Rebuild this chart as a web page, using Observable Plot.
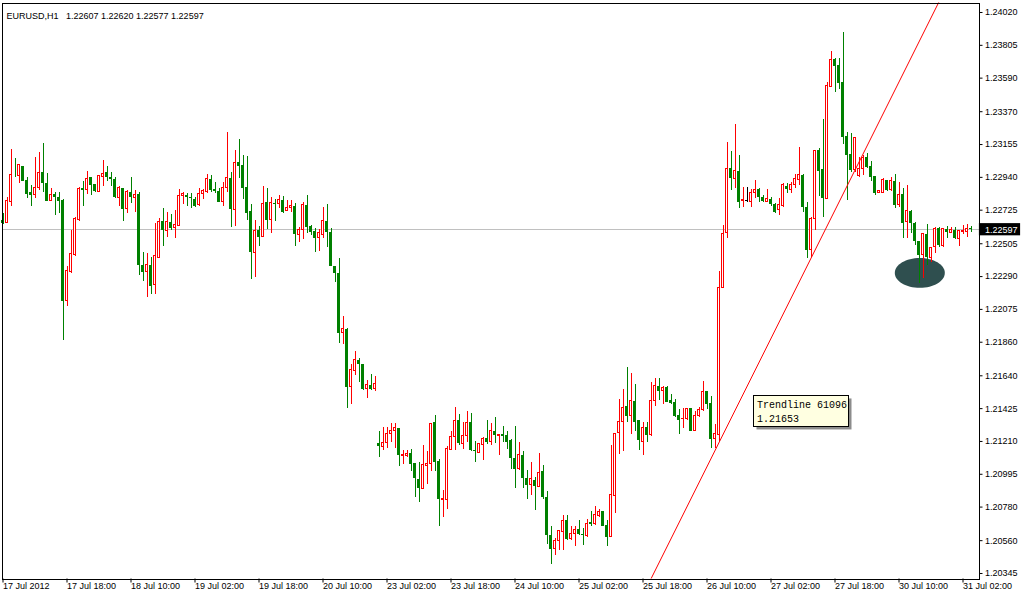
<!DOCTYPE html>
<html><head><meta charset="utf-8">
<script src="https://cdn.jsdelivr.net/npm/d3@7"></script>
<script src="https://cdn.jsdelivr.net/npm/@observablehq/plot@0.6"></script>
<style>
html,body{margin:0;padding:0;background:#fff;}
#chart svg{display:block;}
</style></head><body><div id="chart"></div>
<script>
const symbolName = "EURUSD,H1";
const lastQuote = [1.22607, 1.22620, 1.22577, 1.22597]; // O H L C of the last bar

const open = [
1.22659,1.22643,1.22779,1.22955,1.22949,1.23012,1.22920,1.22838,1.22822,1.22872,
1.22971,1.22903,1.22783,1.22829,1.22807,1.22790,1.22128,1.22320,1.22429,1.22659,
1.22870,1.22855,1.22936,1.22894,1.22844,1.22942,1.22969,1.22942,1.22927,1.22805,
1.22870,1.22731,1.22844,1.22805,1.22829,1.22364,1.22320,1.22364,1.22233,1.22412,
1.22648,1.22589,1.22645,1.22608,1.22621,1.22820,1.22818,1.22811,1.22796,1.22757,
1.22830,1.22843,1.22926,1.22861,1.22850,1.22778,1.22872,1.22935,1.22728,1.23036,
1.23018,1.22874,1.22717,1.22444,1.22592,1.22549,1.22774,1.22658,1.22771,1.22763,
1.22789,1.22719,1.22739,1.22750,1.22564,1.22597,1.22756,1.22619,1.22586,1.22544,
1.22564,1.22651,1.22581,1.22357,1.22313,1.21920,1.21944,1.21566,1.21671,1.21741,
1.21715,1.21555,1.21577,1.21551,1.21195,1.21174,1.21202,1.21261,1.21281,1.21292,
1.21115,1.21115,1.21130,1.21064,1.20962,1.20901,1.21049,1.21064,1.21337,1.21080,
1.20829,1.20829,1.21156,1.21239,1.21348,1.21195,1.21246,1.21333,1.21152,1.21137,
1.21189,1.21228,1.21206,1.21276,1.21246,1.21254,1.21250,1.21213,1.21097,1.21027,
1.21119,1.20966,1.20923,1.20955,1.20912,1.21014,1.20846,1.20595,1.20504,1.20556,
1.20617,1.20691,1.20571,1.20602,1.20632,1.20602,1.20591,1.20676,1.20667,1.20722,
1.20748,1.20660,1.20584,1.20853,1.21265,1.21337,1.21440,1.21376,1.21473,1.21348,
1.21206,1.21300,1.21250,1.21475,1.21571,1.21540,1.21562,1.21475,1.21468,1.21381,
1.21355,1.21355,1.21425,1.21278,1.21374,1.21414,1.21538,1.21457,1.21224,1.21255,
1.22217,1.22577,1.22996,1.22931,1.22981,1.22782,1.22789,1.22778,1.22839,1.22859,
1.22811,1.22778,1.22796,1.22761,1.22728,1.22752,1.22881,1.22859,1.22887,1.22920,
1.22953,1.22745,1.22462,1.22669,1.23114,1.22992,1.22800,1.23531,1.23710,1.23673,
1.23560,1.23210,1.23090,1.22985,1.22948,1.22996,1.23068,1.23012,1.22946,1.22839,
1.22839,1.22920,1.22859,1.22916,1.22756,1.22826,1.22647,1.22719,1.22636,1.22520,
1.22429,1.22566,1.22413,1.22483,1.22603,1.22490,1.22599,1.22577,1.22593,1.22538,
1.22582,1.22582,1.22607];
const high = [
1.22702,1.22811,1.23124,1.23062,1.23023,1.23012,1.22942,1.22888,1.23073,1.23102,
1.23161,1.22964,1.22866,1.22844,1.22844,1.22794,1.22357,1.22593,1.22676,1.22872,
1.22910,1.22979,1.22942,1.22894,1.22949,1.23051,1.23008,1.22975,1.22942,1.22881,
1.22870,1.22855,1.22936,1.22855,1.22844,1.22445,1.22440,1.22418,1.22641,1.22669,
1.22735,1.22713,1.22698,1.22724,1.22859,1.22844,1.22833,1.22833,1.22811,1.22866,
1.22861,1.22959,1.22953,1.22909,1.22865,1.22905,1.23236,1.22974,1.23116,1.23188,
1.23084,1.23077,1.22763,1.22658,1.22619,1.22881,1.22870,1.22811,1.22795,1.22822,
1.22817,1.22789,1.22789,1.22767,1.22614,1.22774,1.22822,1.22625,1.22603,1.22597,
1.22745,1.22763,1.22603,1.22357,1.22411,1.22029,1.21948,1.21713,1.21800,1.21756,
1.21715,1.21610,1.21649,1.21636,1.21272,1.21300,1.21300,1.21326,1.21326,1.21298,
1.21152,1.21152,1.21158,1.21064,1.21071,1.21184,1.21145,1.21326,1.21381,1.21093,
1.20890,1.21174,1.21276,1.21431,1.21388,1.21337,1.21407,1.21392,1.21211,1.21195,
1.21233,1.21344,1.21326,1.21366,1.21257,1.21309,1.21272,1.21222,1.21309,1.21206,
1.21145,1.21021,1.21075,1.20977,1.21130,1.21054,1.20879,1.20650,1.20573,1.20628,
1.20724,1.20724,1.20654,1.20654,1.20689,1.20639,1.20698,1.20748,1.20787,1.20765,
1.20754,1.20693,1.21184,1.21265,1.21483,1.21549,1.21697,1.21658,1.21584,1.21348,
1.21337,1.21337,1.21593,1.21621,1.21621,1.21571,1.21571,1.21518,1.21483,1.21418,
1.21429,1.21429,1.21429,1.21403,1.21435,1.21604,1.21538,1.21505,1.21322,1.22324,
1.22625,1.23167,1.23110,1.23287,1.23084,1.22876,1.22872,1.22861,1.22920,1.22865,
1.22822,1.22861,1.22811,1.22767,1.22804,1.22898,1.22898,1.22909,1.22959,1.23138,
1.22959,1.22774,1.22680,1.23116,1.23127,1.23319,1.23560,1.23765,1.23717,1.23717,
1.23891,1.23232,1.23226,1.23204,1.23073,1.23084,1.23095,1.23044,1.22946,1.22852,
1.22931,1.22920,1.22942,1.22957,1.22905,1.22870,1.22887,1.22723,1.22643,1.22520,
1.22571,1.22632,1.22483,1.22614,1.22614,1.22608,1.22619,1.22614,1.22614,1.22588,
1.22625,1.22630,1.22620];
const low = [
1.22632,1.22641,1.22746,1.22942,1.22899,1.22910,1.22800,1.22746,1.22800,1.22855,
1.22844,1.22779,1.22779,1.22691,1.22702,1.21873,1.22091,1.22309,1.22423,1.22648,
1.22746,1.22829,1.22822,1.22844,1.22844,1.22877,1.22910,1.22881,1.22800,1.22746,
1.22654,1.22702,1.22768,1.22713,1.22298,1.22255,1.22156,1.22174,1.22172,1.22407,
1.22484,1.22549,1.22593,1.22538,1.22615,1.22763,1.22746,1.22735,1.22741,1.22750,
1.22795,1.22833,1.22843,1.22833,1.22774,1.22752,1.22843,1.22614,1.22621,1.22935,
1.22795,1.22658,1.22272,1.22287,1.22490,1.22544,1.22599,1.22575,1.22654,1.22739,
1.22706,1.22717,1.22712,1.22490,1.22516,1.22533,1.22571,1.22560,1.22451,1.22455,
1.22538,1.22479,1.22355,1.22254,1.21854,1.21844,1.21429,1.21451,1.21643,1.21599,
1.21544,1.21494,1.21544,1.21540,1.21102,1.21152,1.21167,1.21202,1.21167,1.21043,
1.21058,1.21108,1.21010,1.20840,1.20807,1.20896,1.20927,1.21016,1.21014,1.20656,
1.20715,1.20763,1.21152,1.21152,1.21184,1.21158,1.21206,1.21145,1.21069,1.21130,
1.21086,1.21189,1.21184,1.21195,1.21119,1.21206,1.21158,1.21027,1.20905,1.21021,
1.20905,1.20829,1.20853,1.20759,1.20910,1.20831,1.20536,1.20405,1.20460,1.20497,
1.20497,1.20562,1.20558,1.20519,1.20595,1.20529,1.20580,1.20650,1.20660,1.20711,
1.20650,1.20519,1.20580,1.20741,1.21125,1.21147,1.21337,1.21256,1.21272,1.21152,
1.21115,1.21202,1.21243,1.21440,1.21475,1.21453,1.21462,1.21451,1.21366,1.21256,
1.21294,1.21344,1.21272,1.21272,1.21366,1.21407,1.21418,1.21163,1.21163,1.21210,
1.22210,1.22538,1.22854,1.22865,1.22734,1.22745,1.22774,1.22745,1.22800,1.22778,
1.22778,1.22774,1.22752,1.22702,1.22691,1.22745,1.22833,1.22833,1.22865,1.22887,
1.22713,1.22411,1.22418,1.22593,1.22817,1.22680,1.22796,1.23527,1.23498,1.23514,
1.23154,1.22789,1.22975,1.22975,1.22942,1.22953,1.23001,1.22913,1.22822,1.22833,
1.22833,1.22850,1.22850,1.22734,1.22745,1.22542,1.22538,1.22571,1.22494,1.22243,
1.22280,1.22363,1.22379,1.22440,1.22479,1.22483,1.22538,1.22571,1.22531,1.22490,
1.22564,1.22549,1.22577];
const close = [
1.22641,1.22783,1.22953,1.22949,1.23019,1.22916,1.22829,1.22818,1.22872,1.22971,
1.22899,1.22783,1.22827,1.22805,1.22785,1.22128,1.22325,1.22436,1.22669,1.22866,
1.22855,1.22931,1.22888,1.22848,1.22949,1.22960,1.22936,1.22927,1.22805,1.22872,
1.22731,1.22844,1.22805,1.22827,1.22360,1.22320,1.22364,1.22228,1.22423,1.22648,
1.22589,1.22648,1.22608,1.22626,1.22816,1.22829,1.22805,1.22800,1.22752,1.22833,
1.22848,1.22926,1.22854,1.22850,1.22778,1.22872,1.22937,1.22728,1.23036,1.23012,
1.22870,1.22706,1.22451,1.22588,1.22549,1.22767,1.22658,1.22774,1.22763,1.22793,
1.22712,1.22741,1.22750,1.22564,1.22597,1.22756,1.22614,1.22581,1.22538,1.22575,
1.22651,1.22577,1.22359,1.22313,1.21920,1.21948,1.21566,1.21675,1.21741,1.21715,
1.21551,1.21577,1.21551,1.21584,1.21174,1.21202,1.21261,1.21281,1.21296,1.21115,
1.21119,1.21130,1.21062,1.20966,1.20901,1.21054,1.21064,1.21326,1.21075,1.20829,
1.20831,1.21163,1.21239,1.21342,1.21195,1.21246,1.21333,1.21152,1.21141,1.21195,
1.21228,1.21206,1.21276,1.21246,1.21254,1.21244,1.21206,1.21097,1.21027,1.21119,
1.20966,1.20923,1.20962,1.20912,1.21006,1.20840,1.20595,1.20504,1.20556,1.20621,
1.20691,1.20569,1.20602,1.20632,1.20599,1.20591,1.20671,1.20667,1.20726,1.20748,
1.20656,1.20584,1.20857,1.21261,1.21337,1.21431,1.21376,1.21473,1.21337,1.21213,
1.21300,1.21246,1.21475,1.21571,1.21540,1.21562,1.21468,1.21457,1.21376,1.21348,
1.21359,1.21425,1.21278,1.21374,1.21418,1.21534,1.21453,1.21221,1.21261,1.22215,
1.22571,1.22996,1.22935,1.22981,1.22778,1.22789,1.22789,1.22839,1.22859,1.22811,
1.22785,1.22796,1.22761,1.22713,1.22756,1.22887,1.22859,1.22887,1.22927,1.22953,
1.22745,1.22462,1.22669,1.23114,1.22981,1.22800,1.23538,1.23706,1.23669,1.23553,
1.23204,1.23084,1.22985,1.23199,1.22996,1.23068,1.23007,1.22942,1.22837,1.22850,
1.22920,1.22854,1.22916,1.22756,1.22826,1.22641,1.22719,1.22636,1.22520,1.22429,
1.22566,1.22413,1.22479,1.22599,1.22494,1.22599,1.22577,1.22593,1.22538,1.22586,
1.22588,1.22599,1.22597];

const priceTicks = [1.24020,1.23805,1.23590,1.23370,1.23155,1.22940,1.22725,1.22505,1.22290,
  1.22075,1.21860,1.21640,1.21425,1.21210,1.20995,1.20780,1.20560,1.20345];
const timeTickBars = [0,16,32,48,64,80,96,112,128,144,160,176,192,208,224,240];
const timeTickLabels = ["17 Jul 2012","17 Jul 18:00","18 Jul 10:00","19 Jul 02:00","19 Jul 18:00",
  "20 Jul 10:00","23 Jul 02:00","23 Jul 18:00","24 Jul 10:00","25 Jul 02:00","25 Jul 18:00",
  "26 Jul 10:00","27 Jul 02:00","27 Jul 18:00","30 Jul 10:00","31 Jul 02:00"];

// trendline defined by two anchor points (bar index, price)
const trendBars = [178, 210];
const trendPrices = [1.21150, 1.22830];
const trendLabel = "Trendline 61096";
const trendTipPrice = "1.21653";

// ellipse object (centre in bar index / price)
const ellipseBar = 229.2, ellipsePrice = 1.22314;

// ---------- build ----------
const UP = "#ff0000", DOWN = "#008000", FLAT = "#000000";
const bars = open.map((o, i) => ({i, o, h: high[i], l: low[i], c: close[i]}));
const up = bars.filter(d => d.c > d.o);
const down = bars.filter(d => d.c < d.o);
const doji = bars.filter(d => d.c === d.o);

const slope = (trendPrices[1] - trendPrices[0]) / (trendBars[1] - trendBars[0]);
const trendPts = [150, 250].map(b => ({bar: b, price: trendPrices[0] + (b - trendBars[0]) * slope}));

const ellipseSymbol = {
  draw(ctx) {
    const rx = 25, ry = 14.8, k = 0.5523;
    ctx.moveTo(rx, 0);
    ctx.bezierCurveTo(rx, ry * k, rx * k, ry, 0, ry);
    ctx.bezierCurveTo(-rx * k, ry, -rx, ry * k, -rx, 0);
    ctx.bezierCurveTo(-rx, -ry * k, -rx * k, -ry, 0, -ry);
    ctx.bezierCurveTo(rx * k, -ry, rx, -ry * k, rx, 0);
    ctx.closePath();
  }
};

const last = lastQuote[3];
const tipBox = {x1: 187.75, x2: 211.5, y1: 1.21508, y2: 1.21305, tx: 188.5, ty: 1.21411};

const title = `${symbolName}\u00a0\u00a0 ${lastQuote.map(v => v.toFixed(5)).join(" ")}`;

const wick = (data, color) => Plot.ruleX(data, {x: "i", y1: "l", y2: "h", stroke: color, shapeRendering: "crispEdges"});

const chart = Plot.plot({
  width: 1021, height: 598,
  marginTop: 2.5, marginLeft: 1.5, marginRight: 42.5, marginBottom: 19.5,
  x: {type: "linear", domain: [-0.25, 244], axis: null},
  y: {type: "linear", domain: [1.203089, 1.240822], axis: null},
  style: {fontFamily: "'Liberation Sans', Arial, sans-serif", fontSize: "9px", color: "#000", background: "#fff", overflow: "visible"},
  marks: [
    Plot.ruleY([last], {stroke: "#c0c0c0", shapeRendering: "crispEdges"}),
    Plot.dot([{bar: ellipseBar, price: ellipsePrice}], {x: "bar", y: "price", symbol: ellipseSymbol, r: 10, fill: "#2f4f4f", stroke: null}),
    wick(up, UP),
    wick(down, DOWN),
    wick(doji, FLAT),
    Plot.rect(down, {x1: d => d.i - 0.375, x2: d => d.i + 0.375, y1: "o", y2: "c", fill: DOWN, shapeRendering: "crispEdges"}),
    Plot.rect(up, {x1: d => d.i - 0.25, x2: d => d.i + 0.25, y1: "o", y2: "c", fill: "#ffffff", stroke: UP, shapeRendering: "crispEdges"}),
    Plot.ruleY(doji, {y: "c", x1: d => d.i - 0.375, x2: d => d.i + 0.375, stroke: FLAT, shapeRendering: "crispEdges"}),
    Plot.line(trendPts, {x: "bar", y: "price", stroke: "#ff0000", strokeWidth: 1, clip: true}),
    Plot.frame({stroke: "#000", shapeRendering: "crispEdges"}),
    Plot.axisY(priceTicks, {anchor: "right", tickSize: 3, tickPadding: 3, tickFormat: d => d.toFixed(5), stroke: "#000", fill: "#000"}),
    Plot.axisX(timeTickBars, {anchor: "bottom", tickSize: 4, tickPadding: 0, textAnchor: "start",
      tickFormat: d => timeTickLabels[timeTickBars.indexOf(d)], stroke: "#000", fill: "#000"}),
    Plot.rect([last], {x1: 244.1, x2: 254.4, y1: last - 0.00040, y2: last + 0.00040, fill: "#000"}),
    Plot.text([last], {y: d => d, frameAnchor: "right", dx: 6, textAnchor: "start", text: d => d.toFixed(5), fill: "#fff"}),
    Plot.text([title], {frameAnchor: "top-left", dx: 4.5, dy: 9.5, textAnchor: "start", text: d => d, fill: "#000"}),
    Plot.rect([tipBox], {x1: "x1", x2: "x2", y1: "y1", y2: "y2", fill: "#8c8c8c", dx: 3, dy: 3}),
    Plot.rect([tipBox], {x1: "x1", x2: "x2", y1: "y1", y2: "y2", fill: "#ffffe1", stroke: "#000", shapeRendering: "crispEdges"}),
    Plot.text([tipBox], {x: "tx", y: "ty", text: () => `${trendLabel}\n${trendTipPrice}`, textAnchor: "start", lineAnchor: "middle",
      lineHeight: 1.4, fontFamily: "'Liberation Mono', 'DejaVu Sans Mono', monospace", fontSize: 10, fill: "#000"})
  ]
});
document.getElementById("chart").appendChild(chart);
</script>
</body></html>
